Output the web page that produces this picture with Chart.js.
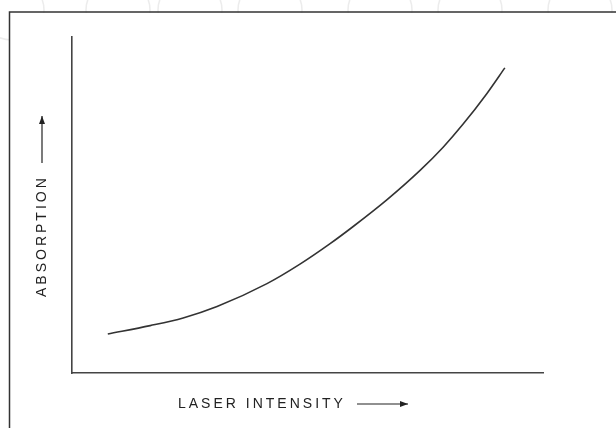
<!DOCTYPE html>
<html>
<head>
<meta charset="utf-8">
<script src="https://cdn.jsdelivr.net/npm/chart.js@4"></script>
<style>
  html, body { margin: 0; padding: 0; background: #fff; }
  #wrap { width: 616px; height: 428px; }
</style>
</head>
<body>
<div id="wrap"><canvas id="absorption"></canvas></div>
<script>
// curve (arbitrary units, axes 0..100)
var intensity = [7.6, 16.6, 23.6, 30.8, 41.4, 48.4, 54.8, 59.7, 66.9, 73.9, 78.8, 83.0, 88.1, 91.9];
var absorption = [11.6, 14.1, 16.4, 19.8, 26.6, 32.4, 38.5, 43.6, 51.6, 60.3, 67.2, 74.0, 83.2, 90.8];
var xTitle = "LASER INTENSITY";
var yTitle = "ABSORPTION";

var points = intensity.map(function (x, i) {
    return { x: x, y: absorption[i] };
});

// frame, faint watermark and the arrow titles
var decorations = {
    id: "decorations",
    beforeDraw: function (chart) {
        var ctx = chart.ctx;
        ctx.save();
        ctx.fillStyle = "#fff";
        ctx.fillRect(0, 0, chart.width, chart.height);
        // faint watermark rings along the top
        ctx.strokeStyle = "#ececec";
        ctx.lineWidth = 1.5;
        [12, 118, 190, 270, 380, 470, 580].forEach(function (cx) {
            ctx.beginPath();
            ctx.ellipse(cx, 10, 32, 30, 0, 0, Math.PI * 2);
            ctx.stroke();
        });
        ctx.fillStyle = "#fff";
        ctx.fillRect(10, 13, chart.width, chart.height);
        // outer frame
        ctx.strokeStyle = "#333";
        ctx.lineWidth = 1.5;
        ctx.beginPath();
        ctx.moveTo(9.5, chart.height);
        ctx.lineTo(9.5, 12);
        ctx.lineTo(chart.width, 12);
        ctx.stroke();
        ctx.restore();
    },
    afterDraw: function (chart) {
        var ctx = chart.ctx;
        ctx.save();
        ctx.fillStyle = "#222";
        ctx.strokeStyle = "#222";
        ctx.font = "14px 'Liberation Sans', Arial, sans-serif";
        ctx.letterSpacing = "3px";
        ctx.textBaseline = "middle";
        ctx.textAlign = "left";
        ctx.fillText(xTitle, 178, 404);
        drawArrow(ctx, 357, 404, 408, 404);

        ctx.translate(42, 297);
        ctx.rotate(-Math.PI / 2);
        ctx.fillText(yTitle, 0, 0);
        ctx.restore();
        ctx.save();
        ctx.fillStyle = "#222";
        ctx.strokeStyle = "#222";
        drawArrow(ctx, 42, 163, 42, 116);
        ctx.restore();
    }
};

function drawArrow(ctx, x1, y1, x2, y2) {
    var a = Math.atan2(y2 - y1, x2 - x1);
    ctx.lineWidth = 1.2;
    ctx.beginPath();
    ctx.moveTo(x1, y1);
    ctx.lineTo(x2, y2);
    ctx.stroke();
    ctx.beginPath();
    ctx.moveTo(x2, y2);
    ctx.lineTo(x2 - 8 * Math.cos(a) + 3 * Math.sin(a), y2 - 8 * Math.sin(a) - 3 * Math.cos(a));
    ctx.lineTo(x2 - 8 * Math.cos(a) - 3 * Math.sin(a), y2 - 8 * Math.sin(a) + 3 * Math.cos(a));
    ctx.closePath();
    ctx.fill();
}

var hiddenTicks = { display: false };

new Chart(document.getElementById("absorption"), {
    type: "scatter",
    data: {
        datasets: [
            {
                data: points,
                showLine: true,
                borderColor: "#333",
                borderWidth: 1.6,
                pointRadius: 0,
                cubicInterpolationMode: "monotone",
                fill: false
            }
        ]
    },
    options: {
        responsive: true,
        maintainAspectRatio: false,
        animation: false,
        layout: { padding: { left: 64, right: 73, top: 37, bottom: 47 } },
        plugins: {
            legend: { display: false },
            tooltip: { enabled: false }
        },
        scales: {
            x: {
                type: "linear",
                min: 0,
                max: 100,
                ticks: hiddenTicks,
                grid: { display: false },
                border: { display: true, color: "#444", width: 1.6 }
            },
            y: {
                type: "linear",
                min: 0,
                max: 100,
                ticks: hiddenTicks,
                grid: { display: false },
                border: { display: true, color: "#444", width: 1.6 }
            }
        }
    },
    plugins: [decorations]
});
</script>
</body>
</html>
